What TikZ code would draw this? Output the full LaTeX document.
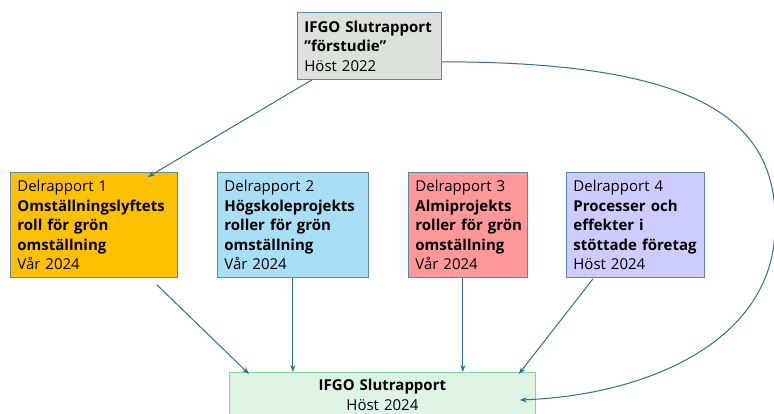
\documentclass[tikz,border=0pt]{standalone}
\usepackage{fontspec}
\setmainfont{Open Sans}
\usepackage{xcolor}
\usetikzlibrary{arrows.meta,positioning,calc}
\definecolor{boxline}{HTML}{5F88A0}
\definecolor{linecol}{HTML}{2E6F8E}
\definecolor{topfill}{HTML}{DCE1DB}
\definecolor{d1fill}{HTML}{FFC000}
\definecolor{d2fill}{HTML}{A8DEF6}
\definecolor{d3fill}{HTML}{FF9999}
\definecolor{d4fill}{HTML}{CCCCFF}
\definecolor{slutfill}{HTML}{DDF3E4}
\definecolor{slutline}{HTML}{80D8A0}

\begin{document}
\begin{tikzpicture}[x=1pt, y=-1pt,
    box/.style={rectangle, draw=boxline, line width=0.8pt, anchor=north west, align=left, inner xsep=7pt, inner ysep=0pt, font=\fontsize{15}{19.5}\selectfont},
    conn/.style={draw=linecol, line width=1pt, -{Stealth[length=7pt, width=5pt]}}
]
    \useasboundingbox (0,0) rectangle (774,413);

    % Förstudie
    \node[box, fill=topfill, text width=130pt, minimum height=67pt] (top) at (297,12) {
        \textbf{IFGO Slutrapport}\\
        \textbf{”förstudie”}\\
        Höst 2022
    };

    % Delrapport 1
    \node[box, fill=d1fill, text width=153pt, minimum height=105pt] (d1) at (10,172) {
        Delrapport 1\\
        \textbf{Omställningslyftets}\\
        \textbf{roll för grön}\\
        \textbf{omställning}\\
        Vår 2024
    };

    % Delrapport 2
    \node[box, fill=d2fill, text width=137pt, minimum height=105pt] (d2) at (217,172) {
        Delrapport 2\\
        \mbox{\textbf{Högskoleprojekts}}\\
        \textbf{roller för grön}\\
        \textbf{omställning}\\
        Vår 2024
    };

    % Delrapport 3
    \node[box, fill=d3fill, text width=105pt, minimum height=105pt] (d3) at (408,172) {
        Delrapport 3\\
        \textbf{Almiprojekts}\\
        \mbox{\textbf{roller för grön}}\\
        \textbf{omställning}\\
        Vår 2024
    };

    % Delrapport 4
    \node[box, fill=d4fill, text width=124pt, minimum height=105pt] (d4) at (566,172) {
        Delrapport 4\\
        \textbf{Processer och}\\
        \textbf{effekter i}\\
        \mbox{\textbf{stöttade företag}}\\
        Höst 2024
    };

    % Slutrapport
    \node[box, draw=slutline, fill=slutfill, align=center, text width=292pt, minimum height=45pt] (slut) at (229,372) {
        \textbf{IFGO Slutrapport}\\
        Höst 2024
    };

    % Pilar
    \draw[conn] ($(top.south west)+(15,0)$) -- ($(d1.north east)+(-30,5)$);
    \draw[conn] ($(d1.south)+(63,7)$) -- ($(slut.north west)+(20,2)$);
    \draw[conn] (d2.south) -- (d2.south |- slut.north);
    \draw[conn] ($(d3.south)+(-5,0)$) coordinate (d3out) -- (d3out |- slut.north);
    \draw[conn] ($(d4.south west)+(27,1)$) -- ($(slut.north east)+(-17,2)$);
    \draw[conn] ($(top.south east)+(0,-18)$) .. controls (700,62) and (780,120) .. (775,230)
        .. controls (772,340) and (650,395) .. ($(slut.north east)+(-16,28)$);
\end{tikzpicture}
\end{document}
